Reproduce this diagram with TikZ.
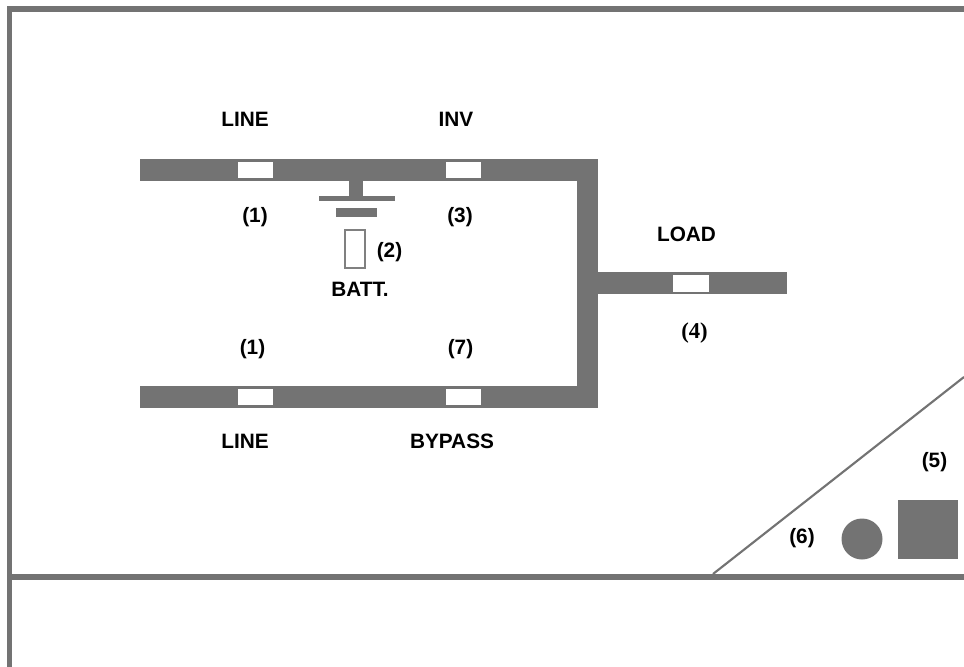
\documentclass[tikz,border=0pt]{standalone}
\usepackage{fontspec}
\setmainfont{Liberation Sans}
\newfontfamily\serifface{Liberation Serif}
\definecolor{busgray}{HTML}{737373}
\definecolor{cellgray}{HTML}{808080}
\tikzset{
  lab/.style={anchor=base,inner sep=0pt,font=\fontsize{15.6}{17}\selectfont\bfseries,text=black},
  labserif/.style={anchor=base,inner sep=0pt,font=\serifface\fontsize{17}{19}\selectfont\bfseries,text=black},
  bus/.style={fill=busgray,draw=none},
  window/.style={fill=white,draw=none}
}
\begin{document}
\begin{tikzpicture}[x=0.75pt,y=-0.75pt]
\useasboundingbox (0,0) rectangle (964,667);
% frame
\fill[bus] (7,6) rectangle (964,12);
\fill[bus] (7,6) rectangle (12,667);
\fill[bus] (7,574) rectangle (964,580);
% buses
\fill[bus] (140,159) rectangle (598,181);
\fill[bus] (140,386) rectangle (598,408);
\fill[bus] (577,159) rectangle (598,408);
\fill[bus] (577,272) rectangle (787,294);
% windows
\fill[window] (238,162) rectangle (273,178);
\fill[window] (446,162) rectangle (481,178);
\fill[window] (238,389) rectangle (273,405);
\fill[window] (446,389) rectangle (481,405);
\fill[window] (673,275) rectangle (709,292);
% battery
\fill[bus] (349,181) rectangle (363,196);
\fill[bus] (319,196) rectangle (395,201);
\fill[bus] (336,208) rectangle (377,217);
\draw[cellgray,line width=1.8pt] (345,230) rectangle (365,268);
% corner
\draw[busgray,line width=1.6pt] (713,574) -- (964,377);
\fill[bus] (862,539) circle (20.5);
\fill[bus] (898,500) rectangle (958,559);
% labels
\node[lab] (l1) at (245,126.8) {LINE};
\node[lab] (inv) at (456,126.8) {INV};
\node[lab] (n1a) at (255,222.2) {(1)};
\node[lab] (n3) at (460,222.2) {(3)};
\node[lab] (n2) at (389.5,257.2) {(2)};
\node[lab] (batt) at (360,296.8) {BATT.};
\node[lab] (n1b) at (252.5,354.2) {(1)};
\node[lab] (n7) at (460.5,354.2) {(7)};
\node[lab] (l2) at (245,448.8) {LINE};
\node[lab] (byp) at (452,448.8) {BYPASS};
\node[lab] (load) at (686.5,241.2) {LOAD};
\node[labserif] (n4) at (694.5,338.5) {(4)};
\node[lab] (n5) at (934.5,467.7) {(5)};
\node[lab] (n6) at (802,543.2) {(6)};
\end{tikzpicture}
\end{document}
